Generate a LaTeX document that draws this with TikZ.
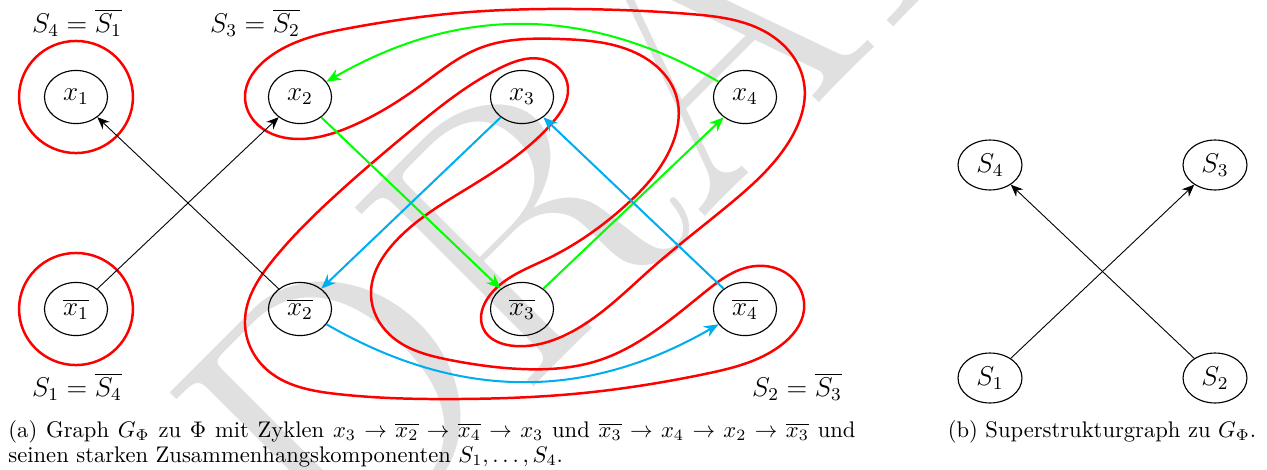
\documentclass[tikz,border=0pt]{standalone}
\usetikzlibrary{shapes.geometric,arrows.meta,hobby}
\definecolor{myred}{RGB}{255,0,0}
\definecolor{mygreen}{RGB}{0,255,0}
\definecolor{mycyan}{RGB}{0,174,239}
\definecolor{wmgray}{gray}{0.88}
\begin{document}
\begin{tikzpicture}[x=0.4425pt, y=-0.4425pt,
  vert/.style={ellipse, draw, line width=0.5pt, inner sep=0pt, minimum width=27.9pt, minimum height=23.5pt, font=\fontsize{12}{14}\selectfont},
  svert/.style={vert, minimum width=28.3pt, minimum height=22.1pt},
  region/.style={draw=myred, line width=1.1pt},
  blk/.style={-{Stealth[length=5.4pt,width=4.5pt]}, line width=0.4pt},
  grn/.style={draw=mygreen, line width=0.9pt, -{Stealth[length=6.4pt,width=5.2pt]}},
  cyn/.style={draw=mycyan, line width=0.9pt, -{Stealth[length=6.4pt,width=5.2pt]}},
  lab/.style={font=\fontsize{12}{14}\selectfont, inner sep=0pt},
  captxt/.style={font=\fontsize{10}{12}\selectfont, inner sep=0pt}
]
\useasboundingbox (0,0) rectangle (1267,469);
\begin{scope}
\clip (0,0) rectangle (1267,469);
\node[text=wmgray, rotate=45, inner sep=0pt, font=\fontsize{164}{164}\selectfont] (wm) at (684,56) {DRAFT};
\end{scope}

% vertices of G_Phi
\node[vert] (x1) at (76,97) {$x_1$};
\node[vert] (x2) at (300,97) {$x_2$};
\node[vert] (x3) at (522,97) {$x_3$};
\node[vert] (x4) at (745,97) {$x_4$};
\node[vert] (nx1) at (76,309) {$\overline{x_1}$};
\node[vert] (nx2) at (300,309) {$\overline{x_2}$};
\node[vert] (nx3) at (522,309) {$\overline{x_3}$};
\node[vert] (nx4) at (745,309) {$\overline{x_4}$};

% strong components
\draw[region] (x1.center) ellipse [x radius=25.2pt, y radius=24.8pt];
\draw[region] (nx1.center) ellipse [x radius=25.2pt, y radius=24.8pt];
% S3 = {x2, x4, nx3}
\draw[region, use Hobby shortcut, closed=true]
  (245,97) .. (268,58) .. (350,28) .. (470,12) .. (573,9) .. (690,14)
  .. (775,38) .. (804,83) .. (790,140) .. (731,203) .. (652,268)
  .. (575,330) .. (515,346) .. (483,328) .. (490,295) .. (547,259)
  .. (626,205) .. (672,145) .. (676,95) .. (640,55) .. (560,39)
  .. (480,48) .. (420,86) .. (352,126) .. (300,139) .. (258,125);
% S2 = {x3, nx2, nx4}
\draw[region, use Hobby shortcut, closed=true]
  (548,61) .. (568,88) .. (553,122) .. (468,188) .. (394,243) .. (371,295)
  .. (390,335) .. (450,360) .. (521,369) .. (600,360) .. (652,333)
  .. (705,292) .. (745,268) .. (790,276) .. (804,310) .. (780,346)
  .. (705,374) .. (573,394) .. (460,399) .. (337,394) .. (265,368)
  .. (245,320) .. (273,260) .. (337,194) .. (415,127) .. (500,68);

% edges
\draw[blk] (nx1) -- (x2);
\draw[blk] (nx2) -- (x1);
\draw[grn] (x2) -- (nx3);
\draw[grn] (nx3) -- (x4);
\draw[grn] (x4) to[bend right=30] (x2);
\draw[cyn] (x3) -- (nx2);
\draw[cyn] (nx4) -- (x3);
\draw[cyn] (nx2) to[bend right=30] (nx4);

% labels
\node[lab] (l4) at (77,23) {$S_4 = \overline{S_1}$};
\node[lab] (l3) at (255,23) {$S_3 = \overline{S_2}$};
\node[lab] (l1) at (77,387) {$S_1 = \overline{S_4}$};
\node[lab] (l2) at (797,387) {$S_2 = \overline{S_3}$};

% superstructure graph
\node[svert] (s4) at (990,165) {$S_4$};
\node[svert] (s3) at (1215,165) {$S_3$};
\node[svert] (s1) at (990,378) {$S_1$};
\node[svert] (s2) at (1215,378) {$S_2$};
\draw[blk] (s1) -- (s3);
\draw[blk] (s2) -- (s4);

% captions
\node[captxt, anchor=base west] (capa1) at (8,437) {\makebox[374.8pt][s]{(a) Graph $G_\Phi$ zu $\Phi$ mit Zyklen $x_3 \to \overline{x_2} \to \overline{x_4} \to x_3$ und $\overline{x_3} \to x_4 \to x_2 \to \overline{x_3}$ und}};
\node[captxt, anchor=base west] (capa2) at (8,462) {seinen starken Zusammenhangskomponenten $S_1, \ldots, S_4$.};
\node[captxt, anchor=base] (capb) at (1102,437) {(b) Superstrukturgraph zu $G_\Phi$.};
\end{tikzpicture}
\end{document}
